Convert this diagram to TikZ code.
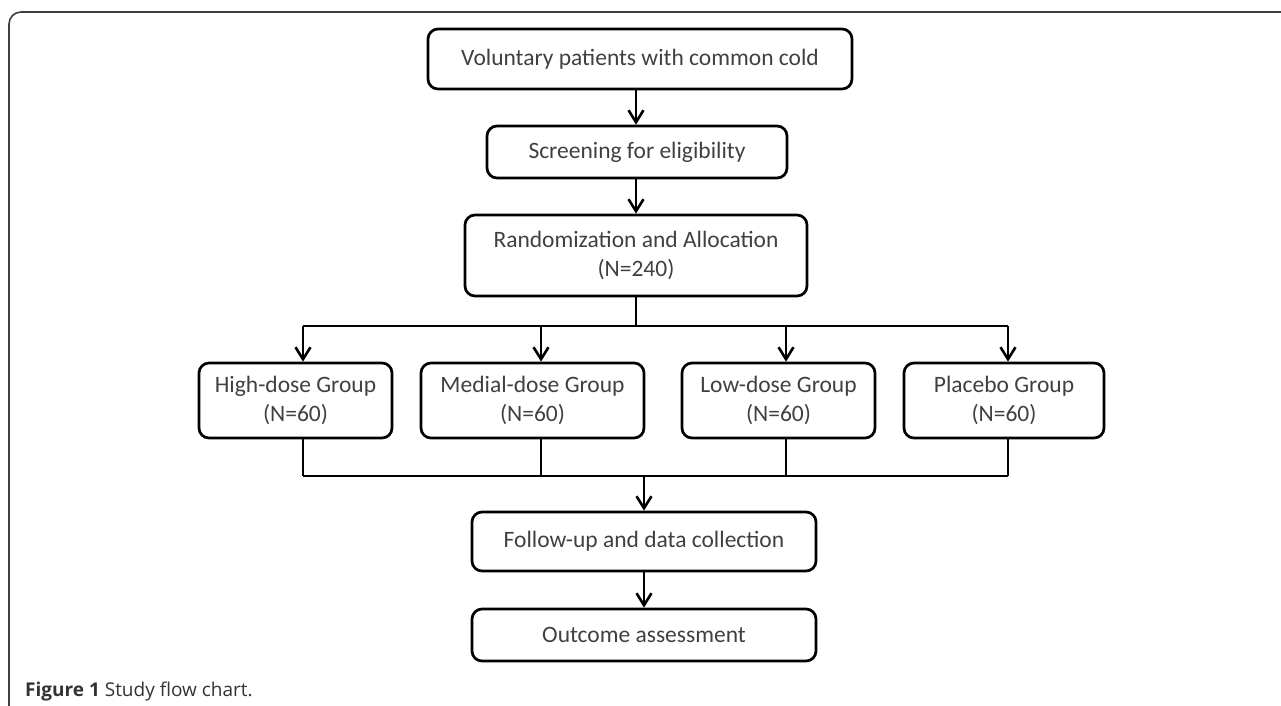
\documentclass[tikz,border=0pt]{standalone}
\usepackage{fontspec}
\setmainfont{Carlito}
\newfontfamily\capfont{Open Sans}
\usetikzlibrary{arrows.meta,calc}
\begin{document}
\begin{tikzpicture}[x=1pt,y=-1pt,
  box/.style={draw=black, line width=2.7pt, rounded corners=10pt, align=center,
    inner sep=0pt, text=black!75, font=\fontsize{23.5}{29}\selectfont},
  conn/.style={line width=2.6pt, draw=black},
  arr/.style={conn, -{Straight Barb[length=12pt,width=15pt]}},
  frame/.style={line width=1.6pt, draw=black!75, rounded corners=12pt}]
\useasboundingbox (0,0) rectangle (1281,705);
% frame
\draw[frame] (1285,12) -- (9,12) -- (9,710);
% nodes
\node[box, minimum width=424pt, minimum height=60pt] (b1) at (640,59) {Voluntary patients with common cold};
\node[box, minimum width=300pt, minimum height=52pt] (b2) at (637,152) {Screening for eligibility};
\node[box, minimum width=342pt, minimum height=81pt] (b3) at (636,255.5) {Randomization and Allocation\\(N=240)};
\node[box, minimum width=193pt, minimum height=75pt] (g1) at (295.5,400.5) {High-dose Group\\(N=60)};
\node[box, minimum width=223pt, minimum height=75pt] (g2) at (532.5,400.5) {Medial-dose Group\\(N=60)};
\node[box, minimum width=193pt, minimum height=75pt] (g3) at (778.5,400.5) {Low-dose Group\\(N=60)};
\node[box, minimum width=200pt, minimum height=75pt] (g4) at (1004,400.5) {Placebo Group\\(N=60)};
\node[box, minimum width=344pt, minimum height=59pt] (f) at (644,541.5) {Follow-up and data collection};
\node[box, minimum width=344pt, minimum height=52pt] (o) at (644,635) {Outcome assessment};
\node[anchor=base west, inner sep=0pt, text=black!80, font=\capfont\fontsize{19}{22}\selectfont] (cap) at (25,696) {\textbf{Figure 1} Study flow chart.};
% coordinates
\coordinate (sp) at (636,326);
\coordinate (s1) at (303,326);
\coordinate (s2) at (541,326);
\coordinate (s3) at (786,326);
\coordinate (s4) at (1008,326);
\coordinate (j1) at (303,476);
\coordinate (j2) at (541,476);
\coordinate (j3) at (786,476);
\coordinate (j4) at (1008,476);
\coordinate (jm) at (644,476);
% connectors
\draw[arr] (b1.south -| b3.north) -- (b2.north -| b3.north);
\draw[arr] (b2.south -| b3.north) -- (b3.north);
\draw[conn] (b3.south) -- (sp);
\draw[conn] (s1) -- (s4);
\draw[arr] (s1) -- (s1 |- g1.north);
\draw[arr] (s2) -- (s2 |- g2.north);
\draw[arr] (s3) -- (s3 |- g3.north);
\draw[arr] (s4) -- (s4 |- g4.north);
\draw[conn] (j1 |- g1.south) -- (j1);
\draw[conn] (j2 |- g2.south) -- (j2);
\draw[conn] (j3 |- g3.south) -- (j3);
\draw[conn] (j4 |- g4.south) -- (j4);
\draw[conn] (j1) -- (j4);
\draw[arr] (jm) -- (f.north);
\draw[arr] (f.south) -- (o.north);
\end{tikzpicture}
\end{document}
